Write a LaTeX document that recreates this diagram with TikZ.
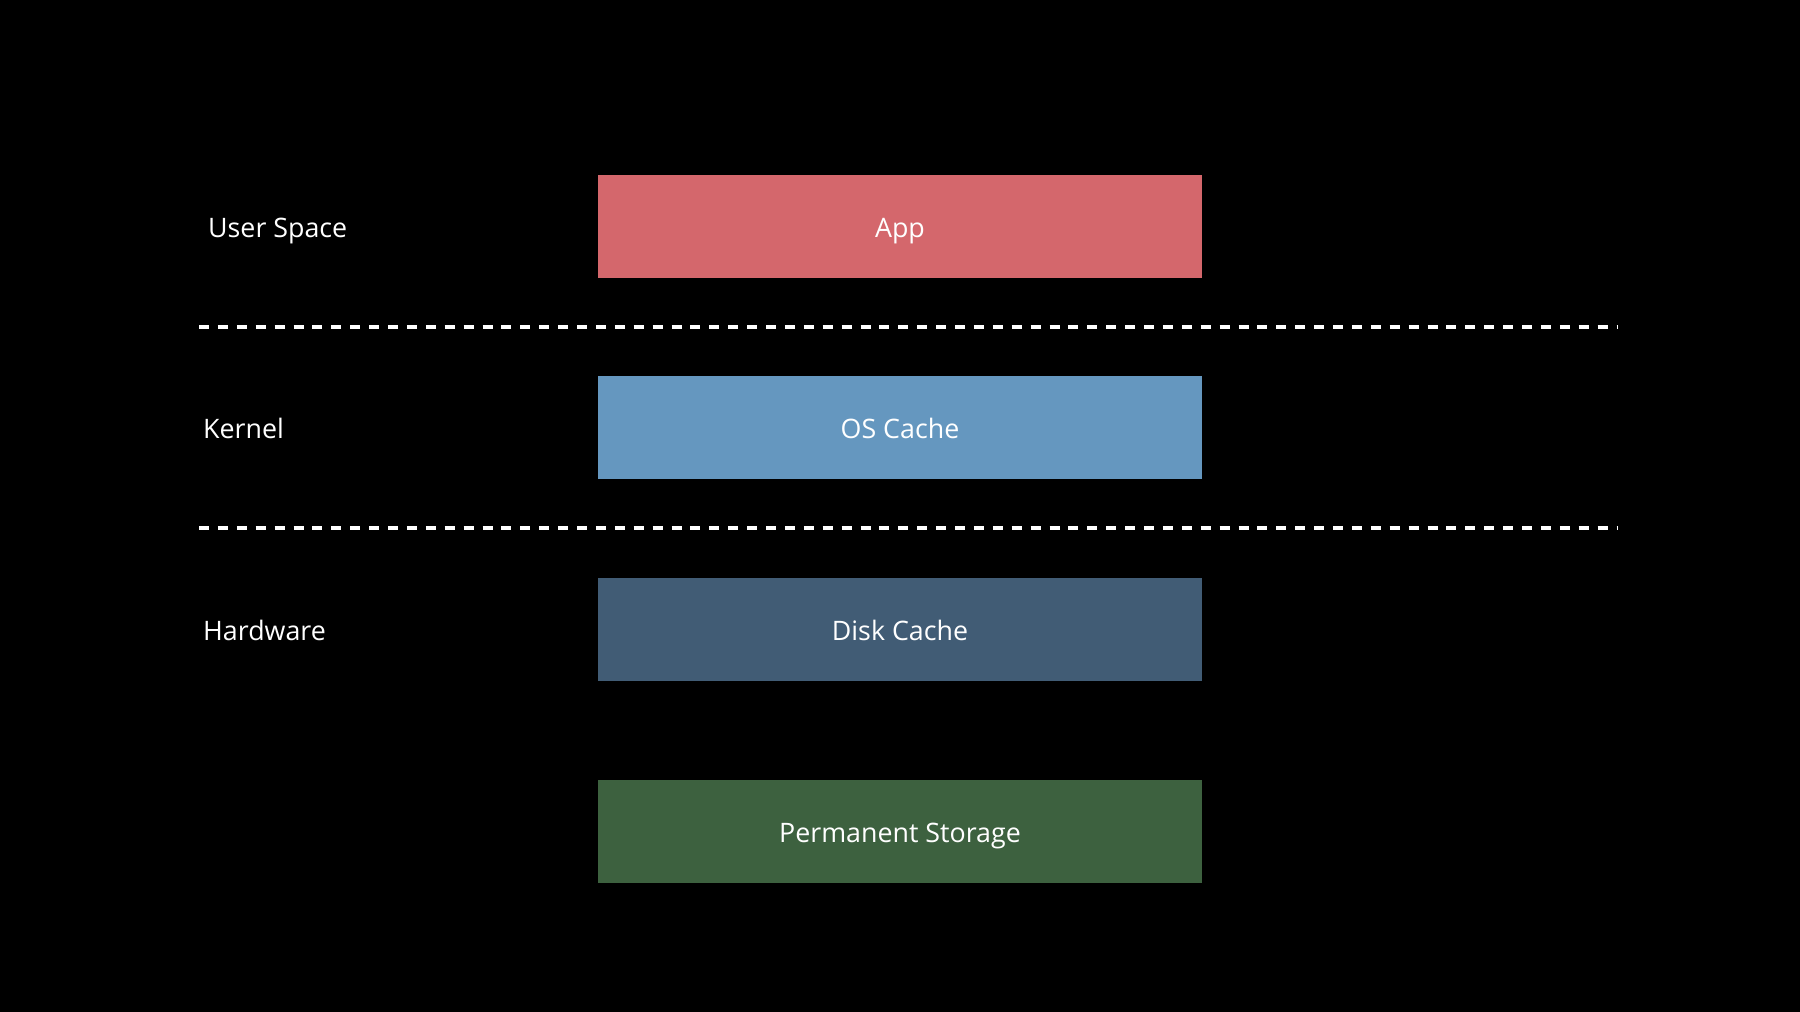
\documentclass[tikz,border=0pt]{standalone}
\usepackage{fontspec}
\setmainfont{Open Sans}
\definecolor{appred}{HTML}{D4676C}
\definecolor{osblue}{HTML}{6597BF}
\definecolor{diskblue}{HTML}{415C75}
\definecolor{permgreen}{HTML}{3D613F}
\begin{document}
\begin{tikzpicture}[x=1pt,y=-1pt,
  layer/.style={minimum width=604pt,minimum height=103pt,inner sep=0pt},
  txt/.style={inner sep=0pt,text=white,text height=22pt,text depth=0pt,font=\fontsize{26.8}{32}\selectfont},
  lbl/.style={txt,anchor=west},
  sep/.style={draw=white,line width=4.7pt,dash pattern=on 10pt off 8.9pt}]
\fill[black] (0,0) rectangle (1800,1012);
\useasboundingbox (0,0) rectangle (1800,1012);
\node[layer,fill=appred] (app) at (900,226) {};
\node[layer,fill=osblue] (os) at (900,427) {};
\node[layer,fill=diskblue] (disk) at (900,629) {};
\node[layer,fill=permgreen] (perm) at (900,831) {};
\node[txt] (appt) at (app) {App};
\node[txt] (ost) at (os) {OS Cache};
\node[txt] (diskt) at (disk) {Disk Cache};
\node[txt] (permt) at (perm) {Permanent Storage};
\node[lbl] (user) at (208,226) {User Space};
\node[lbl] (kern) at (203,427) {Kernel};
\node[lbl] (hw) at (203,629) {Hardware};
\coordinate (d1a) at (199,327);
\coordinate (d1b) at (1618,327);
\coordinate (d2a) at (199,528);
\coordinate (d2b) at (1618,528);
\draw[sep] (d1a) -- (d1b);
\draw[sep] (d2a) -- (d2b);
\end{tikzpicture}
\end{document}
